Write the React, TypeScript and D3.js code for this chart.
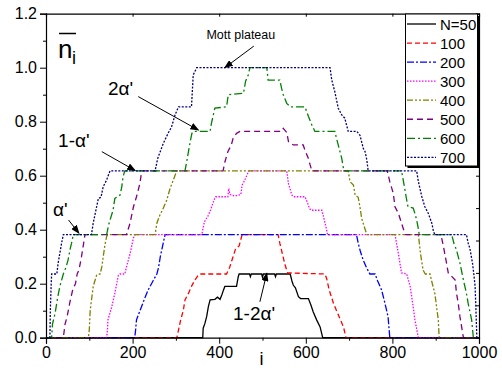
import { useEffect, useRef } from 'react';
import * as d3 from 'd3';

type Pt = [number, number];

// site index i, mean density n_i
const n50: Pt[] = [
  [0, 0], [362, 0], [363, 0.035], [367, 0.053], [371, 0.078], [375, 0.115], [379, 0.14],
  [390, 0.142], [396, 0.15], [402, 0.142], [406, 0.158], [410, 0.177], [413, 0.19],
  [440, 0.19], [444, 0.226], [446, 0.236], [470, 0.236], [472, 0.226], [474, 0.236],
  [498, 0.236], [500, 0.224], [502, 0.236], [528, 0.236], [530, 0.226], [532, 0.236],
  [564, 0.236], [568, 0.21], [571, 0.195], [576, 0.185], [583, 0.152], [588, 0.145],
  [606, 0.145], [612, 0.12], [617, 0.096], [625, 0.066], [633, 0.04], [639, 0], [1000, 0],
];
const n100: Pt[] = [
  [0, 0], [302, 0], [306, 0.028], [311, 0.066], [317, 0.1], [321, 0.14], [329, 0.164],
  [336, 0.19], [344, 0.214], [352, 0.232], [356, 0.236], [417, 0.236], [424, 0.26],
  [432, 0.3], [438, 0.33], [446, 0.34], [453, 0.382], [536, 0.382], [540, 0.35],
  [546, 0.31], [552, 0.27], [558, 0.24], [644, 0.236], [648, 0.22], [654, 0.177],
  [664, 0.127], [671, 0.1], [679, 0.07], [687, 0.04], [693, 0], [1000, 0],
];
const n200: Pt[] = [
  [0, 0], [205, 0], [207, 0.03], [209, 0.066], [217, 0.1], [229, 0.15], [236, 0.177],
  [248, 0.213], [256, 0.236], [260, 0.26], [264, 0.3], [268, 0.33], [275, 0.382],
  [717, 0.382], [721, 0.35], [726, 0.32], [732, 0.29], [740, 0.26], [748, 0.236],
  [760, 0.236], [766, 0.21], [775, 0.177], [782, 0.133], [790, 0.078], [794, 0], [1000, 0],
];
const n300: Pt[] = [
  [0, 0], [140, 0], [142, 0.03], [143, 0.066], [152, 0.115], [159, 0.165], [167, 0.23],
  [171, 0.236], [182, 0.236], [186, 0.263], [194, 0.31], [202, 0.37], [206, 0.382],
  [360, 0.382], [362, 0.4], [366, 0.43], [374, 0.45], [380, 0.473], [388, 0.51],
  [392, 0.522], [420, 0.522], [422, 0.553], [425, 0.53], [436, 0.525], [450, 0.53],
  [453, 0.566], [458, 0.58], [466, 0.609], [469, 0.618], [556, 0.618], [560, 0.57],
  [568, 0.528], [572, 0.522], [598, 0.522], [604, 0.5], [608, 0.48], [612, 0.472],
  [637, 0.472], [641, 0.448], [648, 0.4], [650, 0.382], [806, 0.382], [814, 0.31],
  [821, 0.24], [833, 0.236], [841, 0.19], [848, 0.115], [852, 0.066], [860, 0], [1000, 0],
];
const n400: Pt[] = [
  [0, 0], [98, 0], [100, 0.03], [102, 0.1], [109, 0.19], [117, 0.232], [125, 0.236],
  [129, 0.263], [136, 0.343], [140, 0.374], [142, 0.382], [252, 0.382], [256, 0.424],
  [263, 0.454], [271, 0.48], [279, 0.51], [286, 0.55], [294, 0.584], [302, 0.618],
  [698, 0.618], [702, 0.578], [710, 0.565], [714, 0.528], [721, 0.52], [725, 0.485],
  [729, 0.442], [735, 0.411], [741, 0.382], [860, 0.382], [865, 0.31], [871, 0.25],
  [876, 0.236], [887, 0.236], [890, 0.214], [898, 0.164], [902, 0.115], [906, 0.066],
  [908, 0], [1000, 0],
];
const n500: Pt[] = [
  [0, 0], [40, 0], [44, 0.05], [49, 0.08], [55, 0.13], [62, 0.18], [68, 0.2], [72, 0.236],
  [76, 0.25], [82, 0.3], [86, 0.34], [90, 0.382], [186, 0.382], [194, 0.424], [202, 0.485],
  [209, 0.522], [217, 0.572], [221, 0.618], [409, 0.618], [413, 0.65], [420, 0.689],
  [428, 0.714], [432, 0.738], [440, 0.757], [448, 0.764], [544, 0.764], [548, 0.775],
  [556, 0.76], [560, 0.726], [571, 0.714], [594, 0.714], [598, 0.695], [606, 0.664],
  [610, 0.64], [614, 0.618], [788, 0.618], [794, 0.578], [802, 0.535], [806, 0.485],
  [814, 0.46], [821, 0.424], [826, 0.4], [829, 0.382], [912, 0.382], [918, 0.337],
  [925, 0.276], [929, 0.24], [945, 0.214], [948, 0.165], [952, 0.128], [956, 0.078],
  [964, 0], [1000, 0],
];
const n600: Pt[] = [
  [0, 0], [13, 0], [15, 0.05], [21, 0.09], [27, 0.15], [32, 0.19], [40, 0.236], [46, 0.26],
  [51, 0.288], [56, 0.33], [59, 0.35], [63, 0.382], [140, 0.382], [145, 0.42], [155, 0.473],
  [159, 0.516], [171, 0.528], [175, 0.559], [178, 0.596], [182, 0.618], [321, 0.618],
  [325, 0.652], [329, 0.689], [333, 0.726], [337, 0.757], [340, 0.764], [379, 0.764],
  [382, 0.794], [390, 0.85], [417, 0.855], [421, 0.9], [456, 0.905], [461, 0.95],
  [467, 0.973], [471, 1.0], [510, 1.0], [513, 0.954], [540, 0.954], [544, 0.924],
  [548, 0.9], [556, 0.868], [564, 0.855], [598, 0.855], [606, 0.82], [614, 0.788],
  [621, 0.764], [667, 0.764], [671, 0.738], [679, 0.689], [683, 0.664], [687, 0.627],
  [691, 0.618], [821, 0.618], [825, 0.584], [833, 0.51], [836, 0.485], [848, 0.48],
  [852, 0.46], [856, 0.436], [859, 0.411], [862, 0.382], [937, 0.382], [942, 0.35],
  [948, 0.325], [956, 0.276], [964, 0.214], [971, 0.164], [975, 0.127], [983, 0.066],
  [987, 0], [1000, 0],
];
const n700: Pt[] = [
  [0, 0], [9, 0], [10, 0.1], [12, 0.2], [13, 0.236], [25, 0.236], [28, 0.276], [32, 0.313],
  [36, 0.35], [40, 0.382], [105, 0.382], [109, 0.424], [115, 0.47], [121, 0.516],
  [127, 0.52], [132, 0.559], [140, 0.584], [144, 0.602], [148, 0.618], [252, 0.618],
  [258, 0.664], [264, 0.69], [271, 0.72], [282, 0.757], [290, 0.781], [298, 0.825],
  [306, 0.855], [336, 0.855], [340, 0.973], [348, 1.0], [656, 1.0], [660, 0.954],
  [667, 0.911], [675, 0.85], [683, 0.825], [690, 0.813], [698, 0.764], [718, 0.764],
  [725, 0.75], [733, 0.7], [737, 0.689], [741, 0.658], [744, 0.618], [856, 0.618],
  [860, 0.578], [868, 0.522], [875, 0.485], [883, 0.46], [891, 0.424], [895, 0.393],
  [898, 0.382], [971, 0.382], [975, 0.35], [979, 0.33], [985, 0.276], [988, 0.236],
  [991, 0.19], [993, 0.1], [995, 0], [1000, 0],
];

const seriesNames = ['N=50', '100', '200', '300', '400', '500', '600', '700'];
const seriesData = [n50, n100, n200, n300, n400, n500, n600, n700];

const xTicks = [0, 200, 400, 600, 800, 1000];
const xMinorTicks = [100, 300, 500, 700, 900];
const yTicks = [0, 0.2, 0.4, 0.6, 0.8, 1.0, 1.2];
const yMinorTicks = [0.1, 0.3, 0.5, 0.7, 0.9, 1.1];
const yRightTicks = [0.12, 0.24, 0.36, 0.48, 0.6, 0.72, 0.84, 0.96, 1.08];

const colors = ['#000000', '#ff0000', '#0000ff', '#ff00ff', '#808000', '#800080', '#008000', '#000080'];
const dashes = ['none', '5,3', '7,2,2,2', '1.5,1.5', '6,2,2,2,2,2', '6,4', '8,3,2,3', '2,1.5'];

const FONT = 'Arial, "Liberation Sans", sans-serif';

export default function App() {
  const svgRef = useRef<SVGSVGElement>(null);
  const width = 502;
  const height = 370;

  useEffect(() => {
    if (!svgRef.current) return;
    const svg = d3.select(svgRef.current);
    svg.selectAll('*').remove();

    const x = d3.scaleLinear().domain([0, 1000]).range([46, 479]);
    const y = d3.scaleLinear().domain([0, 1.2]).range([337.7, 13.7]);

    // arrow marker
    svg
      .append('defs')
      .append('marker')
      .attr('id', 'arrowhead')
      .attr('markerUnits', 'userSpaceOnUse')
      .attr('markerWidth', 9)
      .attr('markerHeight', 7)
      .attr('refX', 8)
      .attr('refY', 3.5)
      .attr('orient', 'auto')
      .append('path')
      .attr('d', 'M0,0 L9,3.5 L0,7 Z')
      .attr('fill', '#000');

    // curves
    const line = d3
      .line<Pt>()
      .x((d) => x(d[0]))
      .y((d) => y(d[1]));

    const curves = svg.append('g');
    seriesData.forEach((data, k) => {
      curves
        .append('path')
        .attr('d', line(data) || '')
        .attr('fill', 'none')
        .attr('stroke', colors[k])
        .attr('stroke-width', 1.3)
        .attr('stroke-dasharray', dashes[k]);
    });

    // axes
    const xAxis = svg
      .append('g')
      .attr('transform', `translate(0,${y(0)})`)
      .call(d3.axisBottom(x).tickValues(xTicks).tickSize(6).tickPadding(3).tickFormat(d3.format('d')));
    svg
      .append('g')
      .attr('transform', `translate(0,${y(0)})`)
      .call(d3.axisBottom(x).tickValues(xMinorTicks).tickSize(3).tickFormat(() => ''))
      .select('.domain')
      .remove();

    const yAxis = svg
      .append('g')
      .attr('transform', `translate(${x(0)},0)`)
      .call(d3.axisLeft(y).tickValues(yTicks).tickSize(6).tickPadding(3).tickFormat(d3.format('.1f')));
    svg
      .append('g')
      .attr('transform', `translate(${x(0)},0)`)
      .call(d3.axisLeft(y).tickValues(yMinorTicks).tickSize(3).tickFormat(() => ''))
      .select('.domain')
      .remove();

    // top and right frame
    svg
      .append('g')
      .attr('transform', `translate(0,${y(1.2)})`)
      .call(d3.axisTop(x).tickValues(xTicks).tickSize(-3).tickFormat(() => ''));
    svg
      .append('g')
      .attr('transform', `translate(${x(1000)},0)`)
      .call(d3.axisRight(y).tickValues(yRightTicks).tickSize(-3).tickFormat(() => ''));

    [xAxis, yAxis].forEach((a) =>
      a.selectAll('text').attr('font-size', 16).attr('font-family', FONT).attr('fill', '#000')
    );
    svg.selectAll('.domain').attr('stroke', '#000').attr('stroke-width', 1.2);
    svg.selectAll('.tick line').attr('stroke', '#000').attr('stroke-width', 1);

    // axis titles
    svg
      .append('text')
      .attr('x', x(500) - 1)
      .attr('y', 365)
      .attr('text-anchor', 'middle')
      .attr('font-family', FONT)
      .attr('font-size', 18)
      .text('i');

    const yl = svg.append('g');
    yl.append('text')
      .attr('x', 58)
      .attr('y', 58)
      .attr('font-family', FONT)
      .attr('font-size', 26)
      .text('n');
    yl.append('text')
      .attr('x', 72)
      .attr('y', 64)
      .attr('font-family', FONT)
      .attr('font-size', 18)
      .text('i');
    yl.append('line')
      .attr('x1', 59)
      .attr('x2', 76)
      .attr('y1', 33.5)
      .attr('y2', 33.5)
      .attr('stroke', '#000')
      .attr('stroke-width', 1.5);

    // annotations (data coordinates)
    const notes = [
      { text: 'Mott plateau', tx: 450, ty: 1.107, anchor: 'middle', size: 12.5, from: [480, 1.08], to: [413, 1.0] },
      { text: "2\u03b1'", tx: 143, ty: 0.899, anchor: 'start', size: 19, from: [213, 0.893], to: [352, 0.769] },
      { text: "1-\u03b1'", tx: 28, ty: 0.706, anchor: 'start', size: 19, from: [129, 0.689], to: [206, 0.619] },
      { text: "\u03b1'", tx: 16, ty: 0.451, anchor: 'start', size: 19, from: [52, 0.436], to: [76, 0.387] },
      { text: "1-2\u03b1'", tx: 432, ty: 0.066, anchor: 'start', size: 19, from: [494, 0.133], to: [510, 0.239] },
    ];
    const ann = svg.append('g');
    notes.forEach((d) => {
      ann
        .append('text')
        .attr('x', x(d.tx))
        .attr('y', y(d.ty))
        .attr('text-anchor', d.anchor)
        .attr('font-family', FONT)
        .attr('font-size', d.size)
        .text(d.text);
      ann
        .append('line')
        .attr('x1', x(d.from[0]))
        .attr('y1', y(d.from[1]))
        .attr('x2', x(d.to[0]))
        .attr('y2', y(d.to[1]))
        .attr('stroke', '#000')
        .attr('stroke-width', 1)
        .attr('marker-end', 'url(#arrowhead)');
    });

    // legend
    const lg = svg.append('g');
    lg.append('rect')
      .attr('x', 407.5)
      .attr('y', 16)
      .attr('width', 72)
      .attr('height', 152)
      .attr('fill', '#000');
    lg.append('rect')
      .attr('x', 405.5)
      .attr('y', 14)
      .attr('width', 72)
      .attr('height', 152)
      .attr('fill', '#fff')
      .attr('stroke', '#000')
      .attr('stroke-width', 1);
    seriesNames.forEach((name, k) => {
      const cy = 24 + k * 19.05;
      lg.append('line')
        .attr('x1', 407)
        .attr('x2', 436)
        .attr('y1', cy)
        .attr('y2', cy)
        .attr('stroke', colors[k])
        .attr('stroke-width', 1.3)
        .attr('stroke-dasharray', dashes[k]);
      lg.append('text')
        .attr('x', 440)
        .attr('y', cy + 5.5)
        .attr('font-family', FONT)
        .attr('font-size', 15)
        .text(name);
    });
  }, []);

  return (
    <svg
      ref={svgRef}
      width={width}
      height={height}
      style={{ position: 'absolute', left: 0, top: 0, background: '#fff' }}
    />
  );
}
